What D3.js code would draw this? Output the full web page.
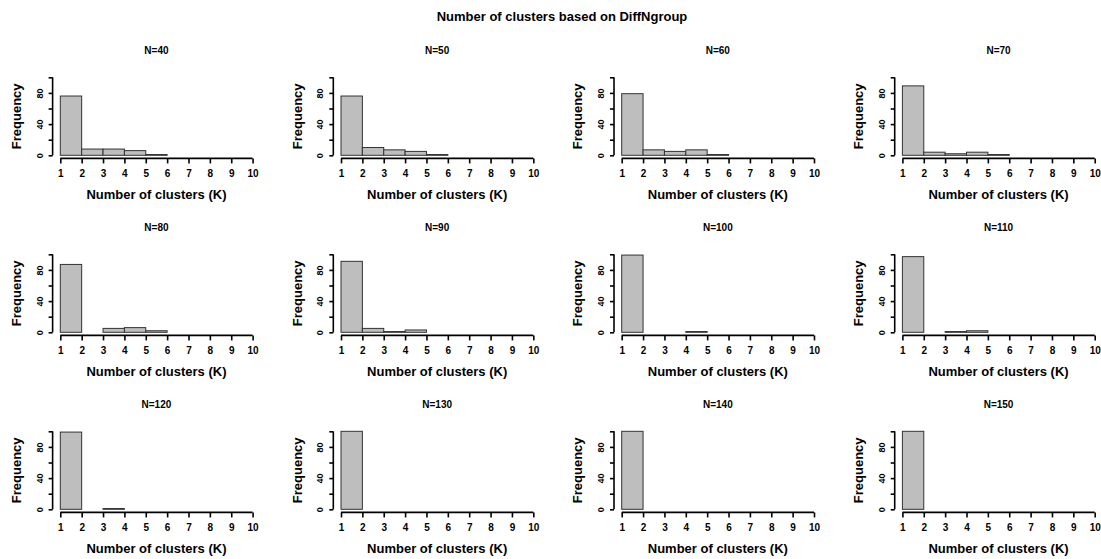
<!DOCTYPE html>
<html>
<head>
<meta charset="utf-8">
<script src="https://cdn.jsdelivr.net/npm/d3@7"></script>
<style>
  body { margin: 0; background: #fff; }
  text { font-family: "Liberation Sans", Arial, sans-serif; font-weight: bold; fill: #000; }
</style>
</head>
<body>
<svg id="chart" width="1101" height="559"></svg>
<script>
// ---- data ----
const mainTitle = "Number of clusters based on DiffNgroup";
const panelNames = ["N=40","N=50","N=60","N=70","N=80","N=90","N=100","N=110","N=120","N=130","N=140","N=150"];
const binEdges = [1,2,3,4,5,6,7,8,9,10];
// counts for bins [1,2],(2,3],...,(9,10]
const countsN40  = [76, 8, 8, 6, 1, 0, 0, 0, 0];
const countsN50  = [76,10, 7, 5, 1, 0, 0, 0, 0];
const countsN60  = [79, 7, 5, 7, 1, 0, 0, 0, 0];
const countsN70  = [89, 4, 2, 4, 1, 0, 0, 0, 0];
const countsN80  = [87, 0, 5, 6, 2, 0, 0, 0, 0];
const countsN90  = [91, 5, 1, 3, 0, 0, 0, 0, 0];
const countsN100 = [99, 0, 0, 1, 0, 0, 0, 0, 0];
const countsN110 = [97, 0, 1, 2, 0, 0, 0, 0, 0];
const countsN120 = [99, 0, 1, 0, 0, 0, 0, 0, 0];
const countsN130 = [100,0, 0, 0, 0, 0, 0, 0, 0];
const countsN140 = [100,0, 0, 0, 0, 0, 0, 0, 0];
const countsN150 = [100,0, 0, 0, 0, 0, 0, 0, 0];
const allCounts = [countsN40,countsN50,countsN60,countsN70,countsN80,countsN90,
                   countsN100,countsN110,countsN120,countsN130,countsN140,countsN150];
const xTicks = [1,2,3,4,5,6,7,8,9,10];
const yTicks = [0,20,40,60,80,100];
const yTickLabels = {0:"0",40:"40",80:"80"};
const xLabel = "Number of clusters (K)";
const yLabel = "Frequency";

// ---- layout ----
const svg = d3.select("#chart");
svg.append("text").attr("x", 562).attr("y", 21).attr("text-anchor","middle")
  .style("font-size","13px").text(mainTitle);

const colStep = 280.7, rowStep = 177;
const x1Left = 60.3, x10Left = 252.6;
const y0Top = 155.3, y100Top = 77.3;

allCounts.forEach((counts, i) => {
  const col = i % 4, row = Math.floor(i / 4);
  const ox = col * colStep, oy = row * rowStep;
  const x = d3.scaleLinear().domain([1,10]).range([x1Left + ox, x10Left + ox]);
  const y = d3.scaleLinear().domain([0,100]).range([y0Top + oy, y100Top + oy]);
  const xAxisY = y(-4);
  const yAxisX = x(1 - 0.36);
  const g = svg.append("g");

  // bars
  const bins = counts.map((c, k) => ({x0: binEdges[k], x1: binEdges[k+1], c}));
  g.selectAll("rect").data(bins).enter().append("rect")
    .attr("x", d => x(d.x0)).attr("width", d => x(d.x1) - x(d.x0))
    .attr("y", d => y(d.c)).attr("height", d => y(0) - y(d.c))
    .attr("fill", "#bebebe").attr("stroke", "#333").attr("stroke-width", 1);

  // x axis
  const xa = g.append("g").attr("transform", `translate(0,${xAxisY})`)
    .call(d3.axisBottom(x).tickValues(xTicks).tickSize(5).tickPadding(6).tickFormat(d3.format("d")));
  xa.select(".domain").attr("d", `M${x(1)},0H${x(10)}`).attr("stroke","#000").attr("stroke-width",1.6);
  xa.selectAll(".tick line").attr("stroke","#000").attr("stroke-width",1.6);
  xa.selectAll(".tick text").style("font-size","10px").style("font-family","Liberation Sans, Arial, sans-serif")
    .style("font-weight","bold").attr("fill","#000");

  // y axis
  const ya = g.append("g").attr("transform", `translate(${yAxisX},0)`)
    .call(d3.axisLeft(y).tickValues(yTicks).tickSize(4).tickFormat(d => yTickLabels[d] || ""));
  ya.select(".domain").attr("d", `M0,${y(0)}V${y(100)}`).attr("stroke","#000").attr("stroke-width",1.6);
  ya.selectAll(".tick line").attr("stroke","#000").attr("stroke-width",1.6);
  ya.selectAll(".tick text")
    .attr("transform", "rotate(-90)").attr("x", 0).attr("dy", 0)
    .attr("y", -10).attr("text-anchor","middle")
    .style("font-size","9px").style("font-family","Liberation Sans, Arial, sans-serif")
    .style("font-weight","bold").attr("fill","#000");

  // titles
  const cx = (x(1) + x(10)) / 2;
  g.append("text").attr("x", cx).attr("y", 53.5 + oy).attr("text-anchor","middle")
    .style("font-size","10px").text(panelNames[i]);
  g.append("text").attr("x", cx).attr("y", 198.5 + oy).attr("text-anchor","middle")
    .style("font-size","13px").text(xLabel);
  const cy = (y(0) + y(100)) / 2;
  g.append("text").attr("transform", `translate(${21 + ox},${cy}) rotate(-90)`)
    .attr("text-anchor","middle").style("font-size","13px").text(yLabel);
});
</script>
</body>
</html>
